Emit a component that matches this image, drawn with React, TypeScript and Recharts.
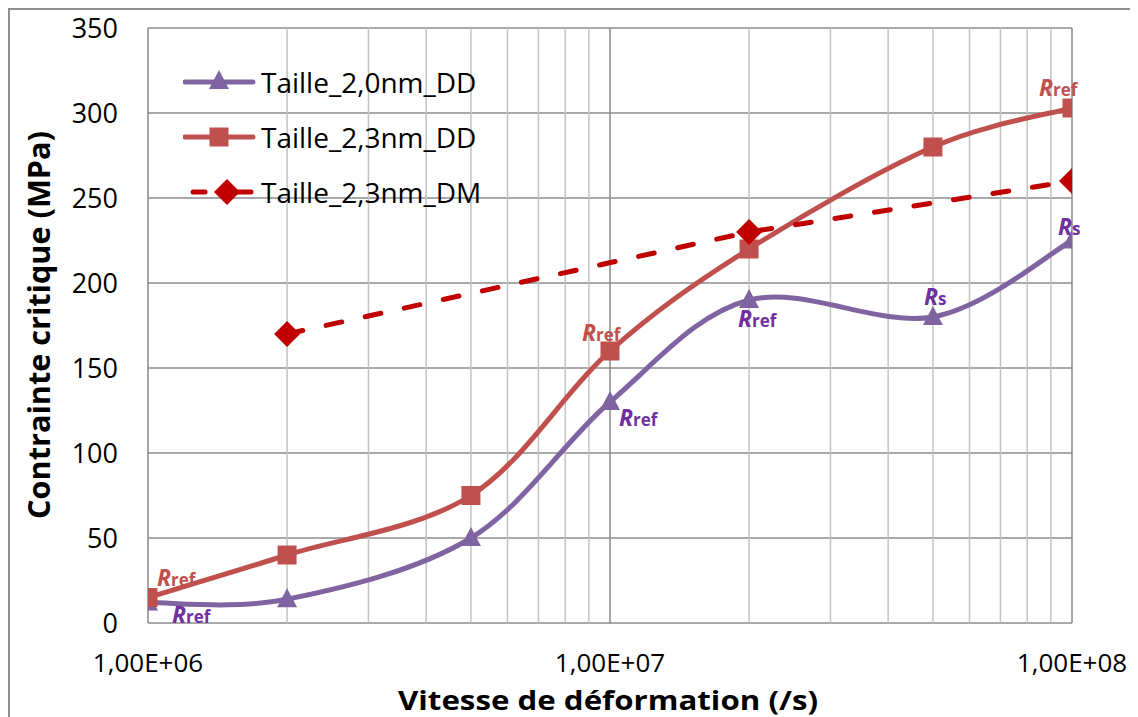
import React from "react";
import {
  LineChart,
  Line,
  XAxis,
  YAxis,
  CartesianGrid,
  ReferenceLine,
  Legend,
  LabelList,
} from "recharts";

// strain rates (/s)
const rates = [1e6, 2e6, 5e6, 1e7, 2e7, 5e7, 1e8];
const taille20DD = [12, 14, 50, 130, 190, 180, 225];
const taille23DD = [15, 40, 75, 160, 220, 280, 303];
const dmRates = [2e6, 2e7, 1e8];
const taille23DM = [170, 230, 260];

// annotation suffixes ("ref" => Rref, "s" => Rs), one per point
const tags20DD = ["ref", "", "", "ref", "ref", "s", "s"];
const tags23DD = ["ref", "", "", "ref", "", "", "ref"];

const yTicks = [0, 50, 100, 150, 200, 250, 300, 350];
const majorTicks = [1e6, 1e7, 1e8];
const minorTicks = [
  2e6, 3e6, 4e6, 5e6, 6e6, 7e6, 8e6, 9e6,
  2e7, 3e7, 4e7, 5e7, 6e7, 7e7, 8e7, 9e7,
];

const seriesNames = ["Taille_2,0nm_DD", "Taille_2,3nm_DD", "Taille_2,3nm_DM"];

const PURPLE = "#8064A2";
const RED = "#C0504D";
const DARKRED = "#C00000";
const FONT = "'Open Sans', sans-serif";

const data20 = rates.map((x, i) => ({ x, y: taille20DD[i], tag: tags20DD[i] }));
const data23 = rates.map((x, i) => ({ x, y: taille23DD[i], tag: tags23DD[i] }));
const dataDM = dmRates.map((x, i) => ({ x, y: taille23DM[i] }));

// label offsets (dx to text start, dy to baseline) per point
const offsets20: Record<number, [number, number]> = {
  0: [24, 20],
  3: [9, 24],
  4: [-11, 27],
  5: [-9, -12],
  6: [-14, -6],
};
const offsets23: Record<number, [number, number]> = {
  0: [9, -12],
  3: [-28, -10],
  6: [-33, -12],
};

// Excel-like smoothed line (Catmull-Rom through the points)
const excelSmooth: any = (context: any) => {
  let pts: number[][] = [];
  return {
    areaStart() {},
    areaEnd() {},
    lineStart() {
      pts = [];
    },
    point(x: number, y: number) {
      pts.push([+x, +y]);
    },
    lineEnd() {
      if (!pts.length) return;
      context.moveTo(pts[0][0], pts[0][1]);
      for (let i = 0; i < pts.length - 1; i++) {
        const p0 = pts[i - 1] || pts[i];
        const p1 = pts[i];
        const p2 = pts[i + 1];
        const p3 = pts[i + 2] || pts[i + 1];
        context.bezierCurveTo(
          p1[0] + (p2[0] - p0[0]) / 6,
          p1[1] + (p2[1] - p0[1]) / 6,
          p2[0] - (p3[0] - p1[0]) / 6,
          p2[1] - (p3[1] - p1[1]) / 6,
          p2[0],
          p2[1]
        );
      }
    },
  };
};

const triangle = (cx: number, cy: number) =>
  `M${cx},${cy - 11}L${cx + 10},${cy + 8}L${cx - 10},${cy + 8}Z`;
const square = (cx: number, cy: number) =>
  `M${cx - 9.5},${cy - 9.5}h19v19h-19Z`;
const diamond = (cx: number, cy: number) =>
  `M${cx},${cy - 13}L${cx + 13},${cy}L${cx},${cy + 13}L${cx - 13},${cy}Z`;

const makeTag =
  (color: string, offsets: Record<number, [number, number]>, list: any[]) =>
  (p: any) => {
    const idx = p.index;
    const item = list[idx];
    if (!item || !item.tag || !offsets[idx]) return null;
    const x = p.x ?? p.viewBox?.x;
    const y = p.y ?? p.viewBox?.y;
    const [dx, dy] = offsets[idx];
    return (
      <text
        key={`tag-${idx}`}
        x={x + dx}
        y={y + dy}
        fill={color}
        fontFamily={FONT}
        fontWeight="bold"
      >
        <tspan fontStyle="italic" fontSize={23}>
          R
        </tspan>
        <tspan fontSize={17}>{item.tag}</tspan>
      </text>
    );
  };

function LegendBox() {
  const row = (i: number) => (
    <div
      key={i}
      style={{ display: "flex", alignItems: "center", height: 55 }}
    >
      <svg width={78} height={30}>
        {i === 0 && (
          <g>
            <line x1={2} y1={15} x2={70} y2={15} stroke={PURPLE} strokeWidth={5} strokeLinecap="round" />
            <path d={triangle(36, 14)} fill={PURPLE} />
          </g>
        )}
        {i === 1 && (
          <g>
            <line x1={2} y1={15} x2={70} y2={15} stroke={RED} strokeWidth={5} strokeLinecap="round" />
            <path d={square(36, 15)} fill={RED} />
          </g>
        )}
        {i === 2 && (
          <g>
            <line x1={10} y1={15} x2={22} y2={15} stroke={DARKRED} strokeWidth={5} strokeLinecap="round" />
            <line x1={54} y1={15} x2={68} y2={15} stroke={DARKRED} strokeWidth={5} strokeLinecap="round" />
            <path d={diamond(44, 15)} fill={DARKRED} />
          </g>
        )}
      </svg>
      <span style={{ fontFamily: FONT, fontSize: 28, color: "#000", lineHeight: 1 }}>
        {seriesNames[i]}
      </span>
    </div>
  );
  return <div>{[0, 1, 2].map(row)}</div>;
}

const XTick = (p: any) => (
  <text
    x={p.x}
    y={p.y + 47}
    textAnchor="middle"
    fontFamily={FONT}
    fontSize={26}
    fill="#000"
  >
    {p.payload.value.toExponential(2).replace(".", ",").replace("e+", "E+0")}
  </text>
);

export default function App() {
  return (
    <div style={{ position: "relative", width: 1130, height: 709 }}>
      <LineChart
        width={1130}
        height={709}
        margin={{ top: 20, right: 66, bottom: 0, left: 0 }}
      >
        <CartesianGrid vertical={false} stroke="#8c8c8c" strokeWidth={1.5} />
        {minorTicks.map((v) => (
          <ReferenceLine key={v} x={v} stroke="#c3c3c3" strokeWidth={1.5} />
        ))}
        {majorTicks.map((v) => (
          <ReferenceLine key={v} x={v} stroke="#888" strokeWidth={1.5} />
        ))}
        <XAxis
          dataKey="x"
          type="number"
          scale="log"
          domain={[1e6, 1e8]}
          ticks={majorTicks}
          allowDataOverflow
          axisLine={false}
          tickLine={false}
          tickSize={0}
          height={94}
          tick={<XTick />}
          label={{
            value: "Vitesse de déformation (/s)",
            content: () => (
              <text
                x={600}
                y={702}
                textAnchor="middle"
                fontFamily={FONT}
                fontWeight="bold"
                fontSize={27}
                textLength={420}
                lengthAdjust="spacingAndGlyphs"
                fill="#000"
              >
                Vitesse de déformation (/s)
              </text>
            ),
          }}
        />
        <YAxis
          type="number"
          domain={[0, 350]}
          ticks={yTicks}
          width={140}
          axisLine={false}
          tickLine={false}
          tickSize={0}
          tickMargin={30}
          tick={{ fontFamily: FONT, fontSize: 27, fill: "#000" }}
          label={{
            value: "Contrainte critique (MPa)",
            content: () => (
              <text
                transform="translate(42,317) rotate(-90)"
                textAnchor="middle"
                fontFamily={FONT}
                fontWeight="bold"
                fontSize={30}
                textLength={388}
                lengthAdjust="spacingAndGlyphs"
                fill="#000"
              >
                Contrainte critique (MPa)
              </text>
            ),
          }}
        />
        <Legend
          layout="horizontal"
          align="center"
          verticalAlign="middle"
          content={() => <LegendBox />}
          wrapperStyle={{ left: 175, top: 46, width: 360, height: 165 }}
        />
        <Line
          data={data20}
          dataKey="y"
          name={seriesNames[0]}
          type={excelSmooth}
          stroke={PURPLE}
          strokeWidth={5}
          isAnimationActive={false}
          activeDot={false}
          dot={(p: any) => (
            <path key={`t-${p.index}`} d={triangle(p.cx, p.cy)} fill={PURPLE} />
          )}
        >
          <LabelList dataKey="y" content={makeTag("#7030A0", offsets20, data20)} />
        </Line>
        <Line
          data={data23}
          dataKey="y"
          name={seriesNames[1]}
          type={excelSmooth}
          stroke={RED}
          strokeWidth={5}
          isAnimationActive={false}
          activeDot={false}
          dot={(p: any) => (
            <path key={`s-${p.index}`} d={square(p.cx, p.cy)} fill={RED} />
          )}
        >
          <LabelList dataKey="y" content={makeTag(RED, offsets23, data23)} />
        </Line>
        <Line
          data={dataDM}
          dataKey="y"
          name={seriesNames[2]}
          type="linear"
          stroke={DARKRED}
          strokeWidth={5}
          strokeDasharray="16 24"
          strokeLinecap="round"
          isAnimationActive={false}
          activeDot={false}
          dot={(p: any) => (
            <path key={`d-${p.index}`} d={diamond(p.cx, p.cy)} fill={DARKRED} />
          )}
        />
      </LineChart>
      <div
        style={{
          position: "absolute",
          left: 0,
          top: 0,
          right: -20,
          bottom: -20,
          borderTop: "2px solid #8f8f8f",
          borderLeft: "2px solid #8f8f8f",
          pointerEvents: "none",
        }}
      />
    </div>
  );
}
